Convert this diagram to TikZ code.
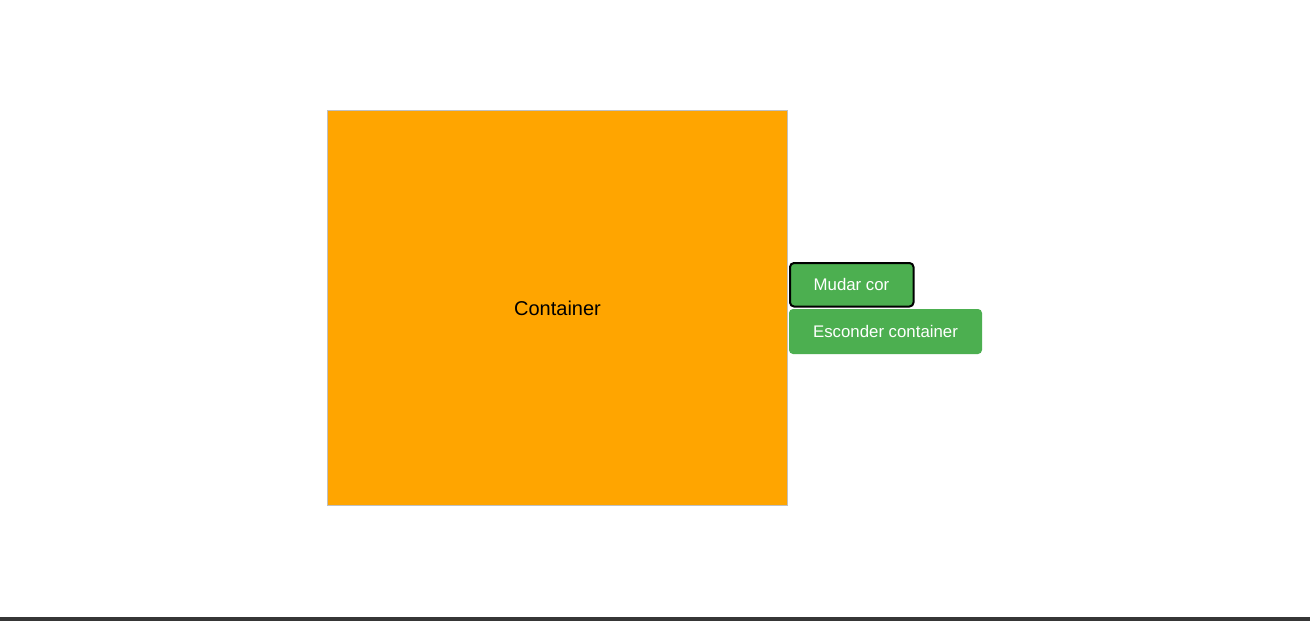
\documentclass[tikz,border=0pt]{standalone}
\usepackage{fontspec}
\setmainfont{Liberation Sans}
\definecolor{boxorange}{HTML}{FFA500}
\definecolor{btngreen}{HTML}{4CAF50}
\definecolor{barcol}{HTML}{363636}
\definecolor{boxborder}{HTML}{C0C0C0}
\begin{document}
\begin{tikzpicture}[x=0.75pt,y=-0.75pt,
  btn/.style={fill=btngreen, rounded corners=3pt, inner sep=0pt},
  btnlabel/.style={text=white, font=\fontsize{12.6}{15}\selectfont, inner sep=0pt}]
\useasboundingbox (0,0) rectangle (1310,621);
\fill[white] (0,0) rectangle (1310,621);
% bottom bar
\fill[barcol] (0,617) rectangle (1310,621);
% container
\draw[fill=boxorange, draw=boxborder, line width=0.75pt] (327.5,110.5) rectangle (787.5,505.5);
\node[font=\fontsize{15}{18}\selectfont, inner sep=0pt] (cont) at (557.5,308) {Container};
% buttons
\draw[btn, draw=black, line width=1.5pt] (790,263) rectangle (913.5,306.5);
\node[btnlabel] (b1) at (851.5,284.5) {Mudar cor};
\fill[btn] (789,309) rectangle (982,354);
\node[btnlabel] (b2) at (885.5,331.5) {Esconder container};
\end{tikzpicture}
\end{document}
